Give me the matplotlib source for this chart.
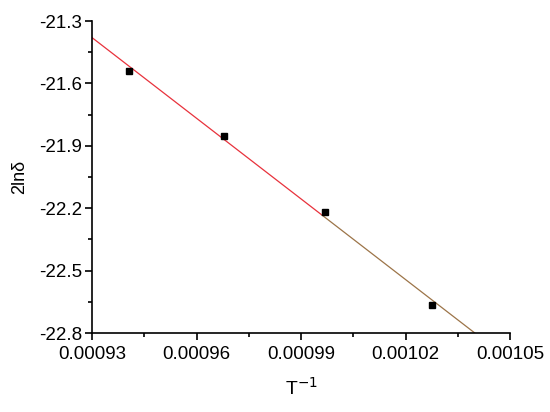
import matplotlib
matplotlib.use("Agg")
import matplotlib.pyplot as plt
from matplotlib.ticker import AutoMinorLocator, FormatStrFormatter
import numpy as np

plt.rcParams["font.family"] = ["Liberation Sans", "DejaVu Sans"]

inv_t = [0.0009406, 0.0009680, 0.0009969, 0.0010276]
two_ln_delta = [-21.540, -21.851, -22.217, -22.665]

x_ticks = [0.00093, 0.00096, 0.00099, 0.00102, 0.00105]
y_ticks = [-22.8, -22.5, -22.2, -21.9, -21.6, -21.3]

# linear fit through the points
slope, intercept = np.polyfit(inv_t, two_ln_delta, 1)

figure = plt.figure(figsize=(5.5, 4.12), dpi=100)
axes = figure.add_axes([0.1673, 0.1917, 0.76, 0.7573])

x_split = 0.000996
x_red = np.array([0.00093, x_split])
x_brown = np.array([x_split, 0.00105])
axes.plot(x_red, slope * x_red + intercept, color="#e8323c", linewidth=0.9)
axes.plot(x_brown, slope * x_brown + intercept, color="#9c7448", linewidth=0.9)

axes.plot(inv_t, two_ln_delta, linestyle="none", marker="s",
          markersize=5, color="black")

axes.set_xlim(x_ticks[0], x_ticks[-1])
axes.set_ylim(y_ticks[0], y_ticks[-1])
axes.set_xticks(x_ticks)
axes.set_yticks(y_ticks)
axes.xaxis.set_major_formatter(FormatStrFormatter("%.5f"))
axes.yaxis.set_major_formatter(FormatStrFormatter("%.1f"))
axes.xaxis.set_minor_locator(AutoMinorLocator(2))
axes.yaxis.set_minor_locator(AutoMinorLocator(2))

for side in ["top", "right"]:
    axes.spines[side].set_visible(False)
for side in ["left", "bottom"]:
    axes.spines[side].set_linewidth(1.2)

axes.tick_params(axis="x", which="major", direction="out", length=5, width=1.2,
                 labelsize=13.5, pad=4)
axes.tick_params(axis="y", which="major", direction="out", length=5, width=1.2,
                 labelsize=13.5, pad=2)
axes.tick_params(which="minor", direction="out", length=3, width=1.2)

axes.set_xlabel("T$^{-1}$", fontsize=14, labelpad=10)
axes.set_ylabel("2ln\u03b4", fontsize=13, labelpad=8)

plt.savefig("out.png", dpi=100)
plt.close()
